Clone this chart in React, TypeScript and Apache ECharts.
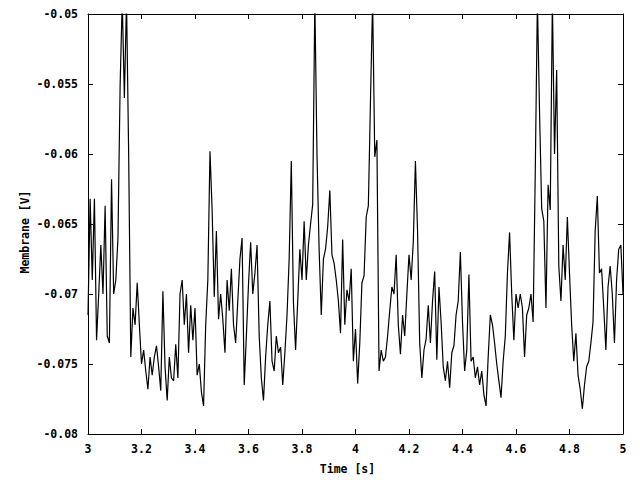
import { useEffect, useRef } from "react";
import * as echarts from "echarts";

// sampled trace: start time, step (s) and membrane voltage readings (V)
const T_START = 3;
const T_STEP = 0.008;

const membrane = [
  -0.0715, -0.0632, -0.069, -0.0632, -0.0733, -0.07, -0.0665, -0.07, -0.0637, -0.073,
  -0.0735, -0.0618, -0.07, -0.069, -0.066, -0.0552, -0.049, -0.056, -0.049, -0.06,
  -0.0745, -0.071, -0.0722, -0.0692, -0.0722, -0.075, -0.074, -0.0755, -0.0768, -0.0745,
  -0.0758, -0.0745, -0.0737, -0.0752, -0.0769, -0.0698, -0.0752, -0.0776, -0.0745, -0.076,
  -0.0762, -0.0736, -0.076, -0.07, -0.069, -0.0722, -0.07, -0.0742, -0.0708, -0.0733,
  -0.071, -0.0758, -0.075, -0.077, -0.078, -0.0722, -0.069, -0.0598, -0.064, -0.0702,
  -0.0655, -0.0718, -0.07, -0.0718, -0.0742, -0.069, -0.0712, -0.0682, -0.0722, -0.0735,
  -0.0705, -0.0675, -0.066, -0.0765, -0.073, -0.0693, -0.0663, -0.07, -0.0685, -0.0665,
  -0.073, -0.076, -0.0776, -0.0745, -0.0722, -0.0705, -0.0748, -0.0755, -0.073, -0.0742,
  -0.0738, -0.0765, -0.0742, -0.0715, -0.0675, -0.0605, -0.0706, -0.074, -0.0705, -0.0668,
  -0.069, -0.0648, -0.069, -0.0665, -0.065, -0.0636, -0.049, -0.06, -0.0668, -0.0715,
  -0.0675, -0.0668, -0.0652, -0.0626, -0.0672, -0.0678, -0.069, -0.0705, -0.0728, -0.0661,
  -0.0722, -0.0697, -0.0705, -0.0682, -0.0748, -0.0725, -0.0764, -0.0735, -0.0692, -0.0687,
  -0.0645, -0.0637, -0.0562, -0.049, -0.0602, -0.059, -0.0755, -0.074, -0.0748, -0.0745,
  -0.073, -0.0712, -0.0695, -0.07, -0.0672, -0.0722, -0.0743, -0.0715, -0.073, -0.07,
  -0.0672, -0.069, -0.0663, -0.0605, -0.0655, -0.0735, -0.076, -0.074, -0.0732, -0.0708,
  -0.0735, -0.0705, -0.0684, -0.0747, -0.0695, -0.072, -0.0752, -0.0762, -0.0748, -0.0767,
  -0.0742, -0.0737, -0.0715, -0.0705, -0.067, -0.072, -0.0755, -0.074, -0.0686, -0.0748,
  -0.0745, -0.076, -0.0752, -0.0765, -0.0755, -0.0772, -0.078, -0.0745, -0.0715, -0.0722,
  -0.0735, -0.075, -0.0762, -0.0774, -0.0748, -0.073, -0.0685, -0.0656, -0.07, -0.0733,
  -0.07, -0.071, -0.07, -0.071, -0.0745, -0.0715, -0.071, -0.07, -0.072, -0.0613,
  -0.049, -0.057, -0.0639, -0.0648, -0.071, -0.0622, -0.064, -0.049, -0.06, -0.054,
  -0.068, -0.0705, -0.0665, -0.069, -0.0645, -0.0685, -0.0722, -0.0748, -0.0728, -0.0758,
  -0.0768, -0.0782, -0.0765, -0.0752, -0.0748, -0.0735, -0.072, -0.0655, -0.063, -0.0685,
  -0.0682, -0.071, -0.074, -0.0695, -0.068, -0.07, -0.0735, -0.069, -0.0668, -0.0665,
  -0.07,
];

const X_MIN = 3;
const X_MAX = 5;
const X_STEP = 0.2;
const Y_MIN = -0.08;
const Y_MAX = -0.05;
const Y_STEP = 0.005;

const FONT = "DejaVu Sans Mono";

export default function App() {
  const chartRef = useRef<HTMLDivElement>(null);

  useEffect(() => {
    document.body.style.margin = "0";
    if (!chartRef.current) {
      return;
    }
    const chart = echarts.init(chartRef.current, null, { renderer: "svg" });

    const points = membrane.map((v, i) => [
      Number((T_START + i * T_STEP).toFixed(3)),
      v,
    ]);

    const labelStyle = {
      color: "#000",
      fontFamily: FONT,
      fontWeight: "bold" as const,
      fontSize: 11.5,
    };
    const lineStyle = { color: "#000", width: 1 };

    chart.setOption({
      animation: false,
      backgroundColor: "#fff",
      grid: { left: 88, right: 17, top: 14, bottom: 43 },
      xAxis: [
        {
          type: "value",
          min: X_MIN,
          max: X_MAX,
          interval: X_STEP,
          position: "bottom",
          name: "Time [s]",
          nameLocation: "middle",
          nameGap: 29,
          nameMoveOverlap: false,
          // gnuplot puts the title slightly left of centre
          nameTextStyle: { ...labelStyle, padding: [0, 16, 0, 0] },
          axisLine: { show: true, lineStyle },
          axisTick: { show: true, inside: true, length: 5, lineStyle },
          axisLabel: {
            ...labelStyle,
            margin: 9,
            formatter: (v: number) => String(Number(v.toFixed(1))),
          },
          splitLine: { show: false },
        },
        {
          type: "value",
          min: X_MIN,
          max: X_MAX,
          interval: X_STEP,
          position: "top",
          axisLine: { show: true, lineStyle },
          axisTick: { show: true, inside: true, length: 5, lineStyle },
          axisLabel: { show: false },
          splitLine: { show: false },
        },
      ],
      yAxis: [
        {
          type: "value",
          min: Y_MIN,
          max: Y_MAX,
          interval: Y_STEP,
          position: "left",
          name: "Membrane [V]",
          nameLocation: "middle",
          nameGap: 57,
          nameMoveOverlap: false,
          nameTextStyle: { ...labelStyle, padding: [0, 16, 0, 0] },
          axisLine: { show: true, lineStyle },
          axisTick: { show: true, inside: true, length: 5, lineStyle },
          axisLabel: {
            ...labelStyle,
            margin: 10,
            formatter: (v: number) => String(Number(v.toFixed(3))),
          },
          splitLine: { show: false },
        },
        {
          type: "value",
          min: Y_MIN,
          max: Y_MAX,
          interval: Y_STEP,
          position: "right",
          axisLine: { show: true, lineStyle },
          axisTick: { show: true, inside: true, length: 5, lineStyle },
          axisLabel: { show: false },
          splitLine: { show: false },
        },
      ],
      series: [
        {
          name: "Membrane",
          type: "line",
          xAxisIndex: 0,
          yAxisIndex: 0,
          data: points,
          showSymbol: false,
          symbol: "none",
          clip: true,
          lineStyle: { color: "#000", width: 1.2 },
        },
      ],
    });

    return () => {
      chart.dispose();
    };
  }, []);

  return <div ref={chartRef} style={{ width: 640, height: 480 }} />;
}
